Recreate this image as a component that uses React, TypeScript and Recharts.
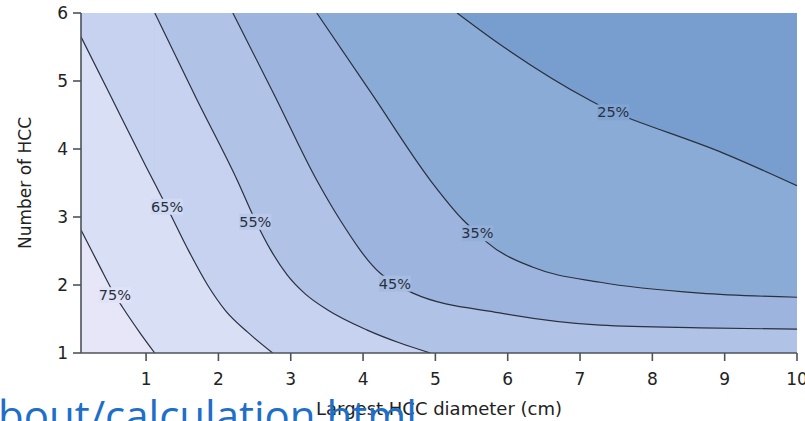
import React from "react";
import {
  Area,
  ComposedChart,
  Line,
  Scatter,
  XAxis,
  YAxis,
} from "recharts";

// plot range
const X_MIN = 0.1;
const X_MAX = 10;
const Y_MIN = 1;
const Y_MAX = 6;

const xTicks = [1, 2, 3, 4, 5, 6, 7, 8, 9, 10];
const yTicks = [1, 2, 3, 4, 5, 6];

// contour lines, [diameter, number]
const contour75 = [[0.1, 2.81], [0.36, 2.27], [0.57, 1.85], [0.67, 1.68], [0.92, 1.29], [1.12, 1.0]];
const contour65 = [[0.1, 5.65], [0.5, 4.8], [1.0, 3.74], [1.29, 3.14], [1.6, 2.48], [1.85, 2.0], [2.1, 1.62], [2.4, 1.31], [2.75, 1.0]];
const contour55 = [[1.12, 6.0], [1.7, 4.73], [2.26, 3.54], [2.51, 2.95], [2.72, 2.52], [2.95, 2.15], [3.2, 1.87], [3.5, 1.64], [4.05, 1.34], [4.5, 1.15], [4.93, 1.0]];
const contour45 = [[2.2, 6.0], [2.78, 4.78], [3.36, 3.54], [3.68, 2.96], [4.23, 2.18], [4.44, 2.02], [4.69, 1.88], [5.89, 1.59], [7.28, 1.41], [8.66, 1.37], [10, 1.35]];
const contour35 = [[3.36, 6.0], [4.14, 4.78], [4.93, 3.54], [5.38, 2.96], [5.58, 2.76], [5.71, 2.63], [6.35, 2.26], [7.28, 2.04], [8.66, 1.88], [10, 1.82]];
const contour25 = [[5.3, 6.0], [5.89, 5.54], [7.13, 4.72], [7.46, 4.54], [7.73, 4.43], [8.98, 3.94], [10, 3.46]];

const levelNames = ["75%", "65%", "55%", "45%", "35%", "25%"];
const labelSpots = [[0.57, 1.85], [1.29, 3.15], [2.51, 2.93], [4.44, 2.02], [5.58, 2.76], [7.46, 4.54]];

// band fills, lightest (below 75%) to darkest (above 25%)
const bandColors = ["#e6e6f8", "#d9dff5", "#c6d2ef", "#b0c2e6", "#9db5de", "#8aabd6", "#789dcf"];

const toPts = (arr: number[][]) => arr.map(([x, y]) => ({ x, y }));

const mix = (a: string, b: string) => {
  const pa = [1, 3, 5].map((i) => parseInt(a.slice(i, i + 2), 16));
  const pb = [1, 3, 5].map((i) => parseInt(b.slice(i, i + 2), 16));
  return "rgb(" + pa.map((v, i) => Math.round((v + pb[i]) / 2)).join(",") + ")";
};

const labels = labelSpots.map(([x, y], i) => ({
  x,
  y,
  text: levelNames[i],
  bg: mix(bandColors[i], bandColors[i + 1]),
}));

const fullTop = toPts([[X_MIN, Y_MAX], [X_MAX, Y_MAX]]);
const leftOf55 = toPts([[X_MIN, Y_MAX], [contour55[0][0], Y_MAX]]);

const font = "DejaVu Sans";
const axisColor = "#4d525b";
const lineColor = "#2a303c";

const ContourLabel = (props: any) => {
  const { cx, cy, payload } = props;
  return (
    <g>
      <rect x={cx - 16} y={cy - 8} width={32} height={16} fill={payload.bg} />
      <text
        x={cx}
        y={cy}
        textAnchor="middle"
        dominantBaseline="central"
        fontSize={14.5}
        fontFamily={font}
        fill="#28303d"
      >
        {payload.text}
      </text>
    </g>
  );
};

export default function App() {
  const contours = [contour75, contour65, contour55, contour45, contour35, contour25];

  return (
    <div
      style={{
        position: "absolute",
        left: 0,
        top: 0,
        width: 805,
        height: 421,
        overflow: "hidden",
        background: "#fff",
      }}
    >
      <ComposedChart
        width={805}
        height={421}
        margin={{ top: 13, right: 8, bottom: 0, left: 25 }}
      >
        {/* bands, painted back to front */}
        <Area data={fullTop} dataKey="y" type="linear" baseValue={Y_MIN} fill={bandColors[3]} fillOpacity={1} stroke="none" isAnimationActive={false} />
        <Area data={toPts(contour45)} dataKey="y" type="monotone" baseValue={Y_MAX} fill={bandColors[4]} fillOpacity={1} stroke="none" isAnimationActive={false} />
        <Area data={toPts(contour35)} dataKey="y" type="monotone" baseValue={Y_MAX} fill={bandColors[5]} fillOpacity={1} stroke="none" isAnimationActive={false} />
        <Area data={toPts(contour25)} dataKey="y" type="monotone" baseValue={Y_MAX} fill={bandColors[6]} fillOpacity={1} stroke="none" isAnimationActive={false} />
        <Area data={leftOf55} dataKey="y" type="linear" baseValue={Y_MIN} fill={bandColors[2]} fillOpacity={1} stroke="none" isAnimationActive={false} />
        <Area data={toPts(contour55)} dataKey="y" type="monotone" baseValue={Y_MIN} fill={bandColors[2]} fillOpacity={1} stroke="none" isAnimationActive={false} />
        <Area data={toPts(contour65)} dataKey="y" type="monotone" baseValue={Y_MIN} fill={bandColors[1]} fillOpacity={1} stroke="none" isAnimationActive={false} />
        <Area data={toPts(contour75)} dataKey="y" type="monotone" baseValue={Y_MIN} fill={bandColors[0]} fillOpacity={1} stroke="none" isAnimationActive={false} />

        {contours.map((c, i) => (
          <Line
            key={levelNames[i]}
            data={toPts(c)}
            dataKey="y"
            type="monotone"
            stroke={lineColor}
            strokeWidth={1.2}
            dot={false}
            activeDot={false}
            isAnimationActive={false}
          />
        ))}

        <Scatter data={labels} dataKey="y" shape={ContourLabel} isAnimationActive={false} />

        <XAxis
          type="number"
          dataKey="x"
          domain={[X_MIN, X_MAX]}
          allowDataOverflow
          ticks={xTicks}
          interval={0}
          height={68}
          tickSize={8}
          tickMargin={12}
          stroke={axisColor}
          strokeWidth={1.6}
          tick={{ fill: "#222", fontSize: 17, fontFamily: font }}
          label={{
            value: "Largest HCC diameter (cm)",
            position: "insideBottom",
            offset: 6,
            style: { fill: "#222", fontSize: 18, fontFamily: font },
          }}
        />
        <YAxis
          type="number"
          domain={[Y_MIN, Y_MAX]}
          allowDataOverflow
          ticks={yTicks}
          interval={0}
          width={56}
          tickSize={8}
          tickMargin={5}
          stroke={axisColor}
          strokeWidth={1.6}
          tick={{ fill: "#222", fontSize: 17, fontFamily: font }}
          label={{
            value: "Number of HCC",
            angle: -90,
            position: "insideLeft",
            offset: 0,
            style: { fill: "#222", fontSize: 17, fontFamily: font, textAnchor: "middle" },
          }}
        />
        <XAxis xAxisId="top" orientation="top" type="number" domain={[0, 1]} height={0} tick={false} tickLine={false} stroke={axisColor} strokeWidth={1.6} />
        <YAxis yAxisId="right" orientation="right" type="number" domain={[0, 1]} width={0} tick={false} tickLine={false} stroke={axisColor} strokeWidth={1.6} />
      </ComposedChart>

      <div
        style={{
          position: "absolute",
          left: -2,
          top: 394,
          fontFamily: "Open Sans",
          fontSize: 42,
          lineHeight: 1,
          color: "#1f6fc9",
          whiteSpace: "nowrap",
        }}
      >
        bout/calculation.html
      </div>
    </div>
  );
}
